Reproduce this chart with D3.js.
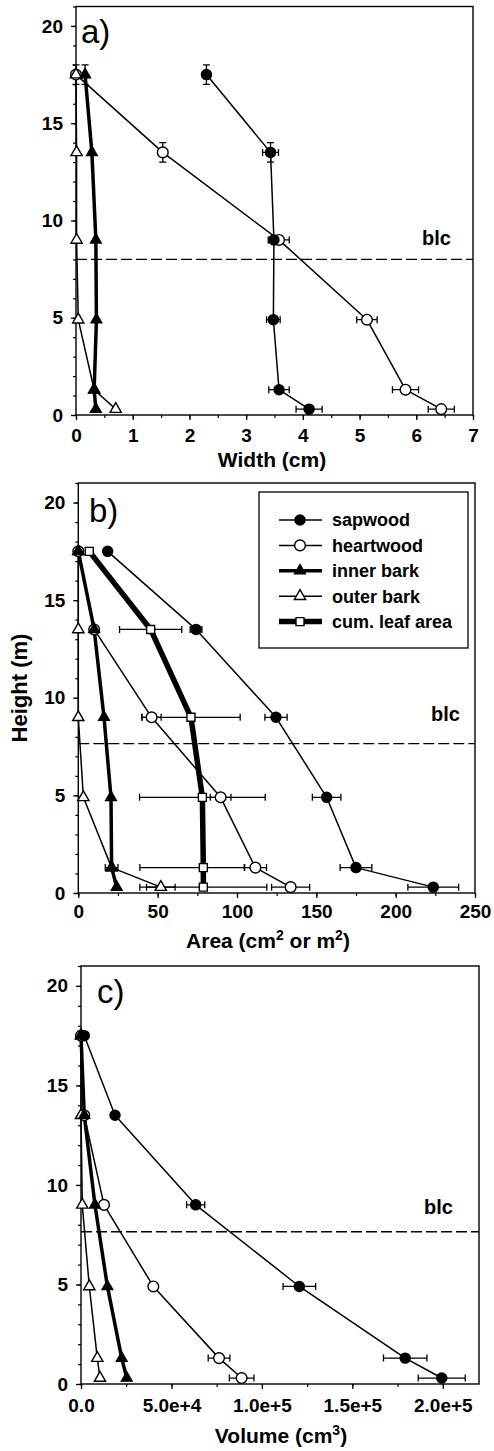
<!DOCTYPE html>
<html>
<head>
<meta charset="utf-8">
<script src="https://cdn.jsdelivr.net/npm/d3@7"></script>
<style>
body { margin: 0; background: #fff; }
text { font-family: "Liberation Sans", Arial, sans-serif; fill: #000; }
</style>
</head>
<body>
<svg id="chart" width="494" height="1451"></svg>
<script>
// heights of the sampled stem sections (m)
var heights = [17.5, 13.5, 9, 4.9, 1.3, 0.3];

// a) width (cm)
var widthSapwood = [2.30, 3.43, 3.49, 3.48, 3.58, 4.11];
var widthSapwoodErr = [0, 0.14, 0.10, 0.12, 0.18, 0.23];
var widthSapwoodErrY = [0.5, 0.5, 0, 0, 0, 0];
var widthHeartwood = [0, 1.53, 3.58, 5.13, 5.81, 6.44];
var widthHeartwoodErr = [0, 0, 0.18, 0.18, 0.23, 0.23];
var widthHeartwoodErrY = [0, 0.5, 0, 0, 0, 0];
var widthInnerBark = [0.16, 0.28, 0.35, 0.36, 0.32, 0.35];
var widthInnerBarkErrY = [0.5, 0, 0, 0, 0, 0];
var widthOuterBark = [0, 0.01, 0.01, 0.04, 0.32, 0.70];
var widthOuterBarkErrY = [0.5, 0, 0, 0, 0, 0];

// b) area (cm2, leaf area m2)
var areaSapwood = [18.5, 74.2, 124.6, 156.5, 175, 223.7];
var areaSapwoodErr = [0, 3.7, 7, 9, 10, 16];
var areaHeartwood = [0, 10, 46.2, 89.7, 111.6, 133.8];
var areaHeartwoodErr = [0, 0, 6, 6.5, 7, 12];
var areaInnerBark = [0, 10, 16.2, 20.6, 21, 24.2];
var areaOuterBark = [0, 0, 0, 3.2, 21, 52];
var areaOuterBarkErr = [0, 0, 0, 0, 4, 9];
var areaLeaf = [6.9, 45.6, 71, 78.2, 78.8, 78.8];
var areaLeafErrLo = [0, 19.6, 31, 39.6, 40, 40];
var areaLeafErrHi = [0, 19.6, 31, 39.6, 26, 40];

// c) volume (cm3)
var volSapwood = [1800, 18800, 63400, 120700, 179200, 199400];
var volSapwoodErr = [0, 0, 5000, 9000, 12000, 13000];
var volHeartwood = [0, 1800, 12700, 40000, 76300, 88800];
var volHeartwoodErr = [0, 0, 0, 0, 6000, 6800];
var volInnerBark = [0, 1800, 7700, 14600, 22500, 25300];
var volOuterBark = [0, 0, 700, 4600, 9000, 10500];

var legendLabels = ["sapwood", "heartwood", "inner bark", "outer bark", "cum. leaf area"];
var blcHeights = [8.0, 7.65, 7.65];
var panelLetters = ["a)", "b)", "c)"];

var zeros = heights.map(function() { return 0; });

// marker / line style per series
var styles = {
	sapwood:   { shape: d3.symbolCircle,   size: 80, fill: "#000", lw: 1.5 },
	heartwood: { shape: d3.symbolCircle,   size: 90, fill: "#fff", lw: 1.5 },
	inner:     { shape: d3.symbolTriangle, size: 50, fill: "#000", lw: 3.5 },
	outer:     { shape: d3.symbolTriangle, size: 55, fill: "#fff", lw: 1.5 },
	leaf:      { shape: d3.symbolSquare,   size: 64, fill: "#fff", lw: 5.5 }
};

function ser(style, xs, lo, hi, ey) {
	return { style: styles[style], xs: xs, lo: lo || zeros, hi: hi || lo || zeros, ey: ey || zeros };
}

var panels = [
	{
		x0: 76, x1: 473, yBase: 415, yTop: 6.5,
		domain: [0, 7], major: d3.range(0, 7.01, 1), minor: d3.range(0, 7.01, 0.5),
		fmt: d3.format("d"), pad: 9,
		title: [["Width (cm)"]], titleX: 272, titleY: 467,
		letterX: 81, letterY: 43, blcX: 422, blcY: 245,
		series: [
			ser("heartwood", widthHeartwood, widthHeartwoodErr, null, widthHeartwoodErrY),
			ser("outer", widthOuterBark, null, null, widthOuterBarkErrY),
			ser("inner", widthInnerBark, null, null, widthInnerBarkErrY),
			ser("sapwood", widthSapwood, widthSapwoodErr, null, widthSapwoodErrY)
		]
	},
	{
		x0: 78.3, x1: 475, yBase: 893, yTop: 483,
		domain: [0, 250], major: d3.range(0, 251, 50), minor: d3.range(0, 251, 25),
		fmt: d3.format("d"), pad: 7,
		title: [["Area (cm"], ["2", 1], [" or m"], ["2", 1], [")"]], titleX: 268, titleY: 948,
		letterX: 89, letterY: 522, blcX: 431, blcY: 721,
		legend: true,
		series: [
			ser("heartwood", areaHeartwood, areaHeartwoodErr),
			ser("outer", areaOuterBark, areaOuterBarkErr),
			ser("inner", areaInnerBark),
			ser("leaf", areaLeaf, areaLeafErrLo, areaLeafErrHi),
			ser("sapwood", areaSapwood, areaSapwoodErr)
		]
	},
	{
		x0: 81, x1: 479, yBase: 1384, yTop: 966,
		domain: [0, 220000], major: d3.range(0, 200001, 50000), minor: d3.range(0, 220001, 25000),
		fmt: function(d) { return d === 0 ? "0.0" : d3.format(".1e")(d); }, pad: 10,
		title: [["Volume (cm"], ["3", 1], [")"]], titleX: 281, titleY: 1443,
		letterX: 97, letterY: 1003, blcX: 424, blcY: 1214,
		series: [
			ser("heartwood", volHeartwood, volHeartwoodErr),
			ser("outer", volOuterBark),
			ser("inner", volInnerBark),
			ser("sapwood", volSapwood, volSapwoodErr)
		]
	}
];

var svg = d3.select("#chart");
svg.append("rect").attr("width", 494).attr("height", 1451).attr("fill", "#fff");

panels.forEach(function(p, pi) {
	var x = d3.scaleLinear().domain(p.domain).range([p.x0, p.x1]);
	var y = d3.scaleLinear().domain([0, 21]).range([p.yBase, p.yTop]);
	var g = svg.append("g");

	// minor ticks
	g.append("g").attr("transform", "translate(0," + p.yBase + ")")
		.call(d3.axisBottom(x).tickValues(p.minor).tickSize(3).tickFormat(""))
		.call(function(a) { a.select(".domain").remove(); a.selectAll("line").attr("stroke-width", 1.2); });
	g.append("g").attr("transform", "translate(" + p.x0 + ",0)")
		.call(d3.axisLeft(y).tickValues(d3.range(0, 21.01, 1)).tickSize(3).tickFormat(""))
		.call(function(a) { a.select(".domain").remove(); a.selectAll("line").attr("stroke-width", 1.2); });

	// major ticks + labels
	g.append("g").attr("transform", "translate(0," + p.yBase + ")")
		.call(d3.axisBottom(x).tickValues(p.major).tickSize(5).tickPadding(p.pad).tickFormat(p.fmt))
		.call(function(a) {
			a.select(".domain").remove();
			a.selectAll("line").attr("stroke-width", 1.3);
			a.selectAll("text").style("font-size", "19px").style("font-weight", "bold").attr("font-family", null);
		});
	g.append("g").attr("transform", "translate(" + p.x0 + ",0)")
		.call(d3.axisLeft(y).tickValues([0, 5, 10, 15, 20]).tickSize(5).tickPadding(8))
		.call(function(a) {
			a.select(".domain").remove();
			a.selectAll("line").attr("stroke-width", 1.3);
			a.selectAll("text").style("font-size", "19px").style("font-weight", "bold").attr("font-family", null);
		});

	// frame
	g.append("rect")
		.attr("x", p.x0).attr("y", p.yTop)
		.attr("width", p.x1 - p.x0).attr("height", p.yBase - p.yTop)
		.attr("fill", "none").attr("stroke", "#000").attr("stroke-width", 1.4);

	// blc dashed line
	g.append("line")
		.attr("x1", p.x0).attr("x2", p.x1)
		.attr("y1", y(blcHeights[pi])).attr("y2", y(blcHeights[pi]))
		.attr("stroke", "#000").attr("stroke-width", 1.3).attr("stroke-dasharray", "11,4");
	g.append("text").attr("x", p.blcX).attr("y", p.blcY)
		.style("font-size", "20px").style("font-weight", "bold").text("blc");

	// panel letter
	g.append("text").attr("x", p.letterX).attr("y", p.letterY)
		.style("font-size", "33px").text(panelLetters[pi]);

	// axis title, with superscripts
	var t = g.append("text").attr("x", p.titleX).attr("y", p.titleY)
		.attr("text-anchor", "middle").style("font-size", "21px").style("font-weight", "bold");
	var raised = false;
	p.title.forEach(function(part) {
		if (part[1]) {
			t.append("tspan").attr("dy", -8).style("font-size", "14px").text(part[0]);
			raised = true;
		} else {
			t.append("tspan").attr("dy", raised ? 8 : 0).text(part[0]);
			raised = false;
		}
	});

	// error bars
	var cap = 3.5;
	p.series.forEach(function(s) {
		heights.forEach(function(h, i) {
			var cx = x(s.xs[i]), cy = y(h);
			if (s.lo[i] > 0 || s.hi[i] > 0) {
				var xl = x(s.xs[i] - s.lo[i]), xr = x(s.xs[i] + s.hi[i]);
				g.append("path")
					.attr("d", "M" + xl + "," + cy + "H" + xr +
						"M" + xl + "," + (cy - cap) + "V" + (cy + cap) +
						"M" + xr + "," + (cy - cap) + "V" + (cy + cap))
					.attr("stroke", "#000").attr("stroke-width", 1.3).attr("fill", "none");
			}
			if (s.ey[i] > 0) {
				var yt = y(h + s.ey[i]), yb = y(h - s.ey[i]);
				g.append("path")
					.attr("d", "M" + cx + "," + yt + "V" + yb +
						"M" + (cx - cap) + "," + yt + "H" + (cx + cap) +
						"M" + (cx - cap) + "," + yb + "H" + (cx + cap))
					.attr("stroke", "#000").attr("stroke-width", 1.3).attr("fill", "none");
			}
		});
	});

	// lines
	var line = d3.line().x(function(d) { return x(d[0]); }).y(function(d) { return y(d[1]); });
	p.series.forEach(function(s) {
		g.append("path")
			.attr("d", line(s.xs.map(function(v, i) { return [v, heights[i]]; })))
			.attr("fill", "none").attr("stroke", "#000")
			.attr("stroke-width", s.style.lw).attr("stroke-linejoin", "round");
	});

	// markers
	p.series.forEach(function(s) {
		g.selectAll(null).data(s.xs).enter().append("path")
			.attr("transform", function(v, i) { return "translate(" + x(v) + "," + y(heights[i]) + ")"; })
			.attr("d", d3.symbol().type(s.style.shape).size(s.style.size))
			.attr("fill", s.style.fill).attr("stroke", "#000").attr("stroke-width", 1.4);
	});

	// legend
	if (p.legend) {
		var lg = g.append("g");
		lg.append("rect").attr("x", 259).attr("y", 492).attr("width", 209).attr("height", 156)
			.attr("fill", "#fff").attr("stroke", "#000").attr("stroke-width", 1.3);
		var order = ["sapwood", "heartwood", "inner", "outer", "leaf"];
		order.forEach(function(k, i) {
			var st = styles[k], ly = 520 + i * 25.4;
			lg.append("line").attr("x1", 279).attr("x2", 322).attr("y1", ly).attr("y2", ly)
				.attr("stroke", "#000").attr("stroke-width", st.lw);
			lg.append("path").attr("transform", "translate(300," + ly + ")")
				.attr("d", d3.symbol().type(st.shape).size(st.size))
				.attr("fill", st.fill).attr("stroke", "#000").attr("stroke-width", 1.4);
			lg.append("text").attr("x", 332).attr("y", ly).attr("dy", "0.35em")
				.style("font-size", "18px").style("font-weight", "bold").text(legendLabels[i]);
		});
	}
});

// shared y axis title
svg.append("text")
	.attr("transform", "translate(27,688) rotate(-90)")
	.attr("text-anchor", "middle")
	.style("font-size", "22px").style("font-weight", "bold")
	.text("Height (m)");
</script>
</body>
</html>
